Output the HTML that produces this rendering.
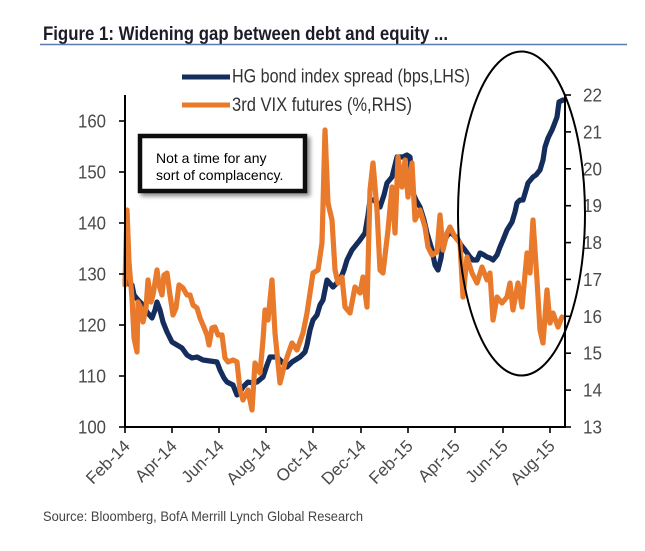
<!DOCTYPE html>
<html>
<head>
<meta charset="utf-8">
<style>
  html, body { margin: 0; padding: 0; background: #ffffff; }
  body { width: 645px; height: 551px; overflow: hidden; }
  svg { display: block; }
  text { font-family: "Liberation Sans", "DejaVu Sans", sans-serif; }
</style>
</head>
<body>
<svg width="645" height="551" viewBox="0 0 645 551" xmlns="http://www.w3.org/2000/svg">
  <defs>
    <filter id="sh" x="-20%" y="-20%" width="140%" height="150%">
      <feDropShadow dx="3" dy="3" stdDeviation="2" flood-color="#000" flood-opacity="0.45"/>
    </filter>
  </defs>
  <rect x="0" y="0" width="645" height="551" fill="#ffffff"/>

  <!-- Title -->
  <text x="43" y="40" font-size="19" font-weight="bold" fill="#1c1c28" textLength="405" lengthAdjust="spacingAndGlyphs">Figure 1: Widening gap between debt and equity ...</text>
  <line x1="40" y1="44.5" x2="627" y2="44.5" stroke="#5b7db1" stroke-width="1.6"/>

  <!-- Legend -->
  <line x1="182" y1="77" x2="230" y2="77" stroke="#142d5c" stroke-width="5"/>
  <text x="232" y="82.5" font-size="19" fill="#333" textLength="238" lengthAdjust="spacingAndGlyphs">HG bond index spread (bps,LHS)</text>
  <line x1="182" y1="105" x2="230" y2="105" stroke="#e9792b" stroke-width="5"/>
  <text x="232" y="111" font-size="19" fill="#333" textLength="180" lengthAdjust="spacingAndGlyphs">3rd VIX futures (%,RHS)</text>

  <!-- Series: blue (LHS) -->
  <polyline fill="none" stroke="#142d5c" stroke-width="5.2" stroke-linejoin="round" stroke-linecap="round"
    points="125,280 129,284 132,285 134,295 138,300 143,305 147,312 152,318 155,310 157,302 160,310 163,322 167,332 172,342 177,345 182,348 187,355 192,358 197,357 203,360 210,361 217,362 220,370 224,378 227,382 233,385 237,395 240,392 243,387 248,382 253,383 257,382 263,377 267,365 270,357 277,357 282,362 287,367 292,362 300,357 305,352 307,345 310,330 313,320 317,315 320,305 323,300 327,280 333,287 340,280 344,270 347,260 352,250 356,245 360,240 365,233 368,215 370,200 374,200 377,203 380,207 384,195 387,183 392,177 395,165 397,157 403,157 407,155 410,157 413,193 416,200 420,207 424,220 427,233 432,250 435,265 438,270 441,258 443,243 447,236 450,232 457,238 461,245 465,250 470,257 473,260 477,260 480,253 484,255 487,257 490,258 493,260 497,255 500,247 503,240 507,230 512,222 515,212 517,203 520,200 523,200 526,190 528,183 533,177 536,175 540,170 543,160 545,147 548,138 552,130 554,125 557,117 559,102 563,100"/>

  <!-- Series: orange (RHS) -->
  <polyline fill="none" stroke="#e9792b" stroke-width="5.2" stroke-linejoin="round" stroke-linecap="round"
    points="125,285 127,210 129,262 132,298 134,338 137,352 138,302 141,308 143,322 146,308 148,280 151,302 153,295 157,270 159,285 162,295 164,275 167,273 170,295 173,315 176,308 179,285 183,288 187,295 190,295 193,305 197,308 200,318 203,325 207,335 209,345 212,328 215,327 218,335 222,335 225,358 228,362 233,360 237,362 240,390 243,400 248,390 252,410 255,363 260,373 263,340 265,310 268,320 272,280 275,333 280,383 285,363 292,343 297,350 303,333 307,313 313,273 318,270 322,243 325,130 328,203 332,220 335,270 338,283 342,277 345,307 350,313 355,287 360,293 363,277 367,307 370,190 373,163 377,210 380,270 383,273 388,230 392,187 395,233 398,157 402,187 405,160 408,197 412,163 415,220 420,210 425,227 428,247 432,255 437,252 440,215 443,250 447,233 450,227 455,237 460,243 463,297 467,257 472,273 477,283 482,267 487,280 490,273 493,320 497,297 502,303 507,297 510,283 513,310 518,283 522,307 527,253 530,273 533,220 537,280 540,330 543,343 547,290 550,323 553,313 558,327 562,317"/>

  <!-- Axes -->
  <g stroke="#000" stroke-width="2" fill="none">
    <line x1="125" y1="95" x2="125" y2="428"/>
    <line x1="124" y1="427" x2="566" y2="427"/>
    <line x1="565" y1="95" x2="565" y2="428"/>
  </g>
  <!-- Left ticks -->
  <g stroke="#000" stroke-width="1.6">
    <line x1="119" y1="121" x2="125" y2="121"/>
    <line x1="119" y1="172" x2="125" y2="172"/>
    <line x1="119" y1="223" x2="125" y2="223"/>
    <line x1="119" y1="274" x2="125" y2="274"/>
    <line x1="119" y1="325" x2="125" y2="325"/>
    <line x1="119" y1="376" x2="125" y2="376"/>
    <line x1="119" y1="427" x2="125" y2="427"/>
  </g>
  <!-- Right ticks -->
  <g stroke="#000" stroke-width="1.6">
    <line x1="565" y1="95" x2="571" y2="95"/>
    <line x1="565" y1="131.9" x2="571" y2="131.9"/>
    <line x1="565" y1="168.8" x2="571" y2="168.8"/>
    <line x1="565" y1="205.7" x2="571" y2="205.7"/>
    <line x1="565" y1="242.6" x2="571" y2="242.6"/>
    <line x1="565" y1="279.4" x2="571" y2="279.4"/>
    <line x1="565" y1="316.3" x2="571" y2="316.3"/>
    <line x1="565" y1="353.2" x2="571" y2="353.2"/>
    <line x1="565" y1="390.1" x2="571" y2="390.1"/>
    <line x1="565" y1="427" x2="571" y2="427"/>
  </g>
  <!-- Bottom ticks -->
  <g stroke="#000" stroke-width="1.6">
    <line x1="125" y1="427" x2="125" y2="433"/>
    <line x1="172" y1="427" x2="172" y2="433"/>
    <line x1="219" y1="427" x2="219" y2="433"/>
    <line x1="266" y1="427" x2="266" y2="433"/>
    <line x1="313" y1="427" x2="313" y2="433"/>
    <line x1="361" y1="427" x2="361" y2="433"/>
    <line x1="408" y1="427" x2="408" y2="433"/>
    <line x1="455" y1="427" x2="455" y2="433"/>
    <line x1="503" y1="427" x2="503" y2="433"/>
    <line x1="550" y1="427" x2="550" y2="433"/>
  </g>

  <!-- Left labels -->
  <g font-size="18" fill="#4a4a4a" text-anchor="end">
    <text x="106" y="127.5" textLength="28" lengthAdjust="spacingAndGlyphs">160</text>
    <text x="106" y="178.5" textLength="28" lengthAdjust="spacingAndGlyphs">150</text>
    <text x="106" y="229.5" textLength="28" lengthAdjust="spacingAndGlyphs">140</text>
    <text x="106" y="280.5" textLength="28" lengthAdjust="spacingAndGlyphs">130</text>
    <text x="106" y="331.5" textLength="28" lengthAdjust="spacingAndGlyphs">120</text>
    <text x="106" y="382.5" textLength="28" lengthAdjust="spacingAndGlyphs">110</text>
    <text x="106" y="433.5" textLength="28" lengthAdjust="spacingAndGlyphs">100</text>
  </g>
  <!-- Right labels -->
  <g font-size="18" fill="#4a4a4a">
    <text x="583" y="101.5" textLength="19" lengthAdjust="spacingAndGlyphs">22</text>
    <text x="583" y="138.4" textLength="19" lengthAdjust="spacingAndGlyphs">21</text>
    <text x="583" y="175.3" textLength="19" lengthAdjust="spacingAndGlyphs">20</text>
    <text x="583" y="212.2" textLength="19" lengthAdjust="spacingAndGlyphs">19</text>
    <text x="583" y="249.1" textLength="19" lengthAdjust="spacingAndGlyphs">18</text>
    <text x="583" y="285.9" textLength="19" lengthAdjust="spacingAndGlyphs">17</text>
    <text x="583" y="322.8" textLength="19" lengthAdjust="spacingAndGlyphs">16</text>
    <text x="583" y="359.7" textLength="19" lengthAdjust="spacingAndGlyphs">15</text>
    <text x="583" y="396.6" textLength="19" lengthAdjust="spacingAndGlyphs">14</text>
    <text x="583" y="433.5" textLength="19" lengthAdjust="spacingAndGlyphs">13</text>
  </g>

  <!-- X labels rotated -->
  <g font-size="17" fill="#4a4a4a" text-anchor="end">
    <text transform="translate(131,447) rotate(-45)">Feb-14</text>
    <text transform="translate(178,447) rotate(-45)">Apr-14</text>
    <text transform="translate(225,447) rotate(-45)">Jun-14</text>
    <text transform="translate(272,447) rotate(-45)">Aug-14</text>
    <text transform="translate(319,447) rotate(-45)">Oct-14</text>
    <text transform="translate(367,447) rotate(-45)">Dec-14</text>
    <text transform="translate(414,447) rotate(-45)">Feb-15</text>
    <text transform="translate(461,447) rotate(-45)">Apr-15</text>
    <text transform="translate(509,447) rotate(-45)">Jun-15</text>
    <text transform="translate(556,447) rotate(-45)">Aug-15</text>
  </g>

  <!-- Ellipse annotation -->
  <ellipse cx="521.5" cy="213.5" rx="63.5" ry="162" fill="none" stroke="#000" stroke-width="2"/>

  <!-- Annotation box -->
  <rect x="140" y="136" width="165" height="55" fill="#fff" stroke="#111" stroke-width="4.5" filter="url(#sh)"/>
  <text x="156" y="163" font-size="14" fill="#000">Not a time for any</text>
  <text x="156" y="180" font-size="14" fill="#000">sort of complacency.</text>

  <!-- Source -->
  <text x="43" y="521" font-size="14" fill="#444" textLength="320" lengthAdjust="spacingAndGlyphs">Source:  Bloomberg, BofA Merrill Lynch Global Research</text>
</svg>
</body>
</html>
